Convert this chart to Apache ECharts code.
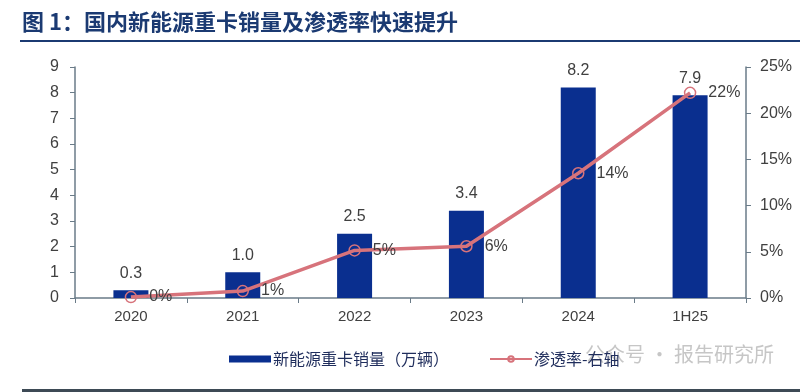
<!DOCTYPE html>
<html><head><meta charset="utf-8">
<script src="https://cdn.jsdelivr.net/npm/echarts@6/dist/echarts.min.js"></script>
<style>html,body{margin:0;padding:0;background:#fff}#c{width:800px;height:392px}</style>
</head><body><div id="c"></div>
<script>
var categories = ['2020','2021','2022','2023','2024','1H25'];
var sales = [0.3, 1.0, 2.5, 3.4, 8.2, 7.9];
var penetration = [0.1, 0.75, 5.15, 5.6, 13.5, 22.2];
var leftTicks = [0, 9, 1];
var rightTicks = [0, 25, 5];

var chart = echarts.init(document.getElementById('c'));
var font = '"Liberation Sans", Arial, "Noto Sans CJK SC", sans-serif';
var cjk = '"Noto Sans CJK SC", sans-serif';
chart.setOption({
  animation: false,
  textStyle: {fontFamily: font},
  grid: {left: 75, right: 54, top: 67, bottom: 94},
  legend: {
    top: 346, left: 224, itemGap: 40, itemWidth: 42, itemHeight: 7,
    textStyle: {fontFamily: cjk, fontSize: 16, color: '#1f2d5c', padding: [0,0,0,-3]},
    data: [
      {name: '新能源重卡销量（万辆）', icon: 'rect'},
      {name: '渗透率-右轴'}
    ]
  },
  graphic: [
    {type: 'text', left: 22, top: 11, style: {text: '图 1：国内新能源重卡销量及渗透率快速提升', font: 'bold 22px "Noto Sans CJK SC", sans-serif', fill: '#1b3a72'}},
    {type: 'rect', shape: {x: 20, y: 40, width: 780, height: 2}, style: {fill: '#1b3a72'}},
    {type: 'rect', shape: {x: 22, y: 389, width: 778, height: 3}, style: {fill: '#3d4a55'}},
    {type: 'text', left: 585, top: 344, z: -1, style: {text: '公众号 · 报告研究所', font: '20px "Noto Sans CJK SC", sans-serif', fill: 'rgba(160,160,160,0.6)'}}
  ],
  xAxis: {
    type: 'category', data: categories,
    axisLine: {lineStyle: {color: '#6a7b88', width: 1.5}},
    axisTick: {show: true, inside: false, length: 5, lineStyle: {color: '#6a7b88'}},
    axisLabel: {fontSize: 15, color: '#404040', margin: 11}
  },
  yAxis: [
    {type: 'value', min: leftTicks[0], max: leftTicks[1], interval: leftTicks[2],
     axisLine: {show: true, lineStyle: {color: '#6a7b88', width: 1.5}},
     axisTick: {show: true, length: 5, lineStyle: {color: '#6a7b88'}},
     splitLine: {show: false},
     axisLabel: {fontSize: 16, color: '#404040', margin: 16}},
    {type: 'value', min: rightTicks[0], max: rightTicks[1], interval: rightTicks[2],
     position: 'right',
     axisLine: {show: true, lineStyle: {color: '#6a7b88', width: 1.5}},
     axisTick: {show: true, length: 5, lineStyle: {color: '#6a7b88'}},
     splitLine: {show: false},
     axisLabel: {fontSize: 16, color: '#404040', margin: 14, formatter: '{value}%'}}
  ],
  series: [
    {name: '新能源重卡销量（万辆）', type: 'bar', data: sales, barWidth: 35,
     itemStyle: {color: '#0a2f8f'},
     label: {show: true, position: 'top', fontSize: 16, color: '#404040', distance: 9,
       formatter: function(p){return p.value.toFixed(1);}}},
    {name: '渗透率-右轴', type: 'line', yAxisIndex: 1, data: penetration,
     symbol: 'circle', symbolSize: 11, showAllSymbol: true,
     lineStyle: {color: '#d7737b', width: 3.5},
     itemStyle: {color: 'rgba(255,255,255,0)', borderColor: '#d7737b', borderWidth: 1.5},
     label: {show: true, position: 'right', distance: 12, fontSize: 16, color: '#404040',
       formatter: function(p){return Math.round(p.value) + '%';}}}
  ]
});
</script></body></html>
